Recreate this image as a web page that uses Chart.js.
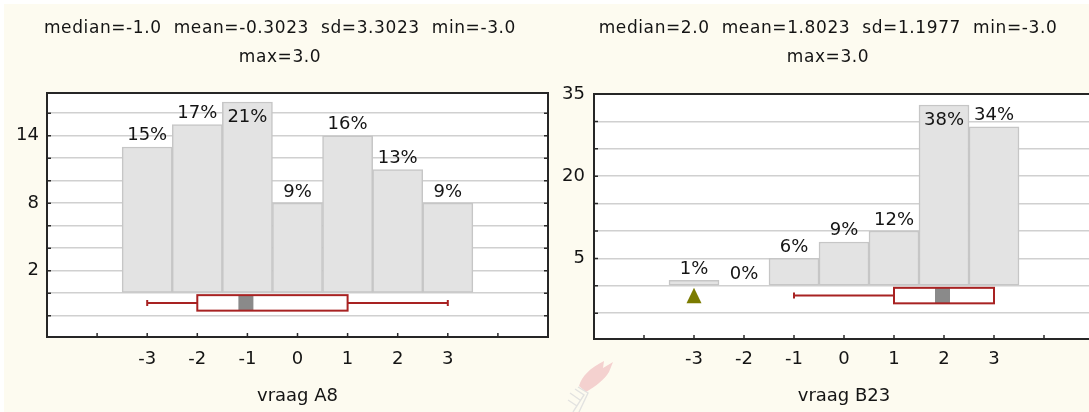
<!DOCTYPE html>
<html>
<head>
<meta charset="utf-8">
<script src="https://cdn.jsdelivr.net/npm/chart.js@4.4.1/dist/chart.umd.min.js"></script>
<style>
  html, body { margin: 0; padding: 0; width: 1089px; height: 412px; overflow: hidden; background: #ffffff; }
  #sheet { position: absolute; left: 4px; top: 4px; right: 0; bottom: 0; background: #fdfbf0; }
  .panel { position: absolute; top: 0; height: 412px; overflow: hidden; }
  .stats { position: absolute; top: 13px; transform: translateX(-50%);
           font-family: "DejaVu Sans", sans-serif; font-size: 17px; letter-spacing: 0.6px;
           line-height: 29px; color: #141414; text-align: center; white-space: pre; }
  #emblem { position: absolute; left: 562px; top: 356px; opacity: 0.85; }
</style>
</head>
<body>
<div id="sheet"></div>

<!-- faint torch emblem in the lower middle of the sheet -->
<svg id="emblem" width="60" height="56" viewBox="0 0 60 56">
  <path d="M17 30 C20 20 28 12 42 5 L41 12 L51 6 L47 16 C42 24 34 30 24 36 Z" fill="#f3caca"/>
  <path d="M16 31 L26 37 L17 56 M13 33 L22 39 L11 56 M8 37 L18 44 M6 44 L15 50" fill="none" stroke="#dedede" stroke-width="1.4"/>
</svg>

<div class="panel" style="left:0;width:560px;"><canvas id="chartA8" width="560" height="412"></canvas></div>
<div class="panel" style="left:560px;width:529px;"><canvas id="chartB23" width="560" height="412"></canvas></div>

<div class="stats" id="statsA8" style="left:280px;"></div>
<div class="stats" id="statsB23" style="left:828px;"></div>

<script>
// Answer categories shared by both questions
const scoreCategories = [-3, -2, -1, 0, 1, 2, 3];
const xTickLabels = ['-3', '-2', '-1', '0', '1', '2', '3'];

// Question A8: counts per answer and printed percentages
const countsA8 = [13, 15, 17, 8, 14, 11, 8];
const pctLabelsA8 = ['15%', '17%', '21%', '9%', '16%', '13%', '9%'];
const yTickLabelsA8 = [14, 8, 2];
// whisker low, Q1, median, Q3, whisker high
const boxA8 = [-3, -2, -1, 1, 3];
const outliersA8 = [];
const statsA8 = ['median=-1.0  mean=-0.3023  sd=3.3023  min=-3.0', 'max=3.0'];
const axisTitleA8 = 'vraag A8';

// Question B23
const countsB23 = [1, 0, 5, 8, 10, 33, 29];
const pctLabelsB23 = ['1%', '0%', '6%', '9%', '12%', '38%', '34%'];
const yTickLabelsB23 = [35, 20, 5];
const boxB23 = [-1, 1, 2, 3, 3];
const outliersB23 = [-3];
const statsB23 = ['median=2.0  mean=1.8023  sd=1.1977  min=-3.0', 'max=3.0'];
const axisTitleB23 = 'vraag B23';

document.getElementById('statsA8').textContent = statsA8.join('\n');
document.getElementById('statsB23').textContent = statsB23.join('\n');

const FONT = '"DejaVu Sans", sans-serif';
const BOX_RED = '#a82222';

// White plot background, inner tick marks and a dark frame around the plot
const frameAndTicks = {
  id: 'frameAndTicks',
  beforeDraw(chart) {
    const { ctx, chartArea: a } = chart;
    ctx.save();
    ctx.fillStyle = '#ffffff';
    ctx.fillRect(a.left, a.top, a.right - a.left, a.bottom - a.top);
    ctx.restore();
  },
  afterDraw(chart) {
    const { ctx, chartArea: a, scales: { x, y } } = chart;
    ctx.save();
    ctx.strokeStyle = '#2a2a2a';
    ctx.lineWidth = 1.5;
    ctx.beginPath();
    x.ticks.forEach(t => {
      if (t.value > x.min && t.value < x.max) {
        const px = x.getPixelForValue(t.value);
        ctx.moveTo(px, a.bottom); ctx.lineTo(px, a.bottom - 4);
      }
    });
    y.ticks.forEach(t => {
      if (t.value > y.min && t.value < y.max) {
        const py = y.getPixelForValue(t.value);
        ctx.moveTo(a.left, py); ctx.lineTo(a.left + 4, py);
        ctx.moveTo(a.right, py); ctx.lineTo(a.right - 4, py);
      }
    });
    ctx.stroke();
    ctx.lineWidth = 2;
    ctx.strokeStyle = '#262626';
    ctx.strokeRect(a.left, a.top, a.right - a.left, a.bottom - a.top);
    ctx.restore();
  }
};

// Percentage labels above each bar (inside the bar when there is no room above)
const barPercentLabels = {
  id: 'barPercentLabels',
  afterDatasetsDraw(chart, args, opts) {
    const { ctx, chartArea: a } = chart;
    const meta = chart.getDatasetMeta(0);
    ctx.save();
    ctx.font = '18px ' + FONT;
    ctx.fillStyle = '#141414';
    ctx.textAlign = 'center';
    ctx.textBaseline = 'alphabetic';
    meta.data.forEach((bar, i) => {
      const text = opts.labels[i];
      let baseY = bar.y - 6.5;
      if (baseY - 13.5 < a.top + 2) baseY = bar.y + 20.5;
      ctx.fillText(text, bar.x, baseY);
    });
    ctx.restore();
  }
};

// Box-and-whisker summary drawn just under the zero line
const boxSummary = {
  id: 'boxSummary',
  afterDatasetsDraw(chart, args, opts) {
    const { ctx, scales: { x, y } } = chart;
    const [lo, q1, med, q3, hi] = opts.box;
    const zero = y.getPixelForValue(0);
    const top = zero + 2, bottom = zero + 17.5, mid = (top + bottom) / 2;
    const px = v => x.getPixelForValue(v);
    ctx.save();
    ctx.strokeStyle = BOX_RED;
    ctx.lineWidth = 2;
    ctx.beginPath();
    if (lo < q1) {
      ctx.moveTo(px(lo), mid); ctx.lineTo(px(q1), mid);
      ctx.moveTo(px(lo), mid - 3); ctx.lineTo(px(lo), mid + 3);
    }
    if (hi > q3) {
      ctx.moveTo(px(q3), mid); ctx.lineTo(px(hi), mid);
      ctx.moveTo(px(hi), mid - 3); ctx.lineTo(px(hi), mid + 3);
    }
    ctx.stroke();
    ctx.fillStyle = '#ffffff';
    ctx.fillRect(px(q1), top, px(q3) - px(q1), bottom - top);
    ctx.fillStyle = '#8a8a8a';
    ctx.fillRect(px(med) - 9, top, 15, bottom - top);
    ctx.strokeRect(px(q1), top, px(q3) - px(q1), bottom - top);
    ctx.fillStyle = '#7b7b00';
    opts.outliers.forEach(v => {
      const cx = px(v);
      ctx.beginPath();
      ctx.moveTo(cx, top);
      ctx.lineTo(cx + 7.5, bottom);
      ctx.lineTo(cx - 7.5, bottom);
      ctx.closePath();
      ctx.fill();
    });
    ctx.restore();
  }
};

function buildHistogram(canvasId, counts, pctLabels, yMin, yMax, yStep, yLabels,
                        box, outliers, axisTitle, area) {
  const points = scoreCategories.map((c, i) => ({ x: c, y: counts[i] }));
  return new Chart(document.getElementById(canvasId), {
    type: 'bar',
    data: {
      datasets: [{
        data: points,
        backgroundColor: '#e3e3e3',
        borderColor: '#c6c6c6',
        borderWidth: 1.5,
        borderSkipped: false,
        barPercentage: 1,
        categoryPercentage: 1
      }]
    },
    options: {
      responsive: false,
      animation: false,
      devicePixelRatio: 1,
      layout: { padding: { top: area.top, left: 0, right: area.right, bottom: 0 } },
      plugins: {
        legend: { display: false },
        tooltip: { enabled: false },
        barPercentLabels: { labels: pctLabels },
        boxSummary: { box: box, outliers: outliers }
      },
      scales: {
        x: {
          type: 'linear',
          min: -5, max: 5,
          offset: false,
          grid: { display: false, drawTicks: false, offset: false },
          border: { display: false },
          afterFit(scale) { scale.height = area.xHeight; },
          ticks: {
            stepSize: 1,
            autoSkip: false,
            maxTicksLimit: 30,
            maxRotation: 0,
            padding: area.xPad,
            color: '#141414',
            font: { family: FONT, size: 18 },
            callback(v) {
              const i = scoreCategories.indexOf(v);
              return i >= 0 ? xTickLabels[i] : '';
            }
          },
          title: {
            display: true,
            text: axisTitle,
            color: '#141414',
            font: { family: FONT, size: 18 },
            padding: { top: 0, bottom: 5 }
          }
        },
        y: {
          min: yMin, max: yMax,
          grid: { color: '#d0d0d0', lineWidth: 1.5, drawTicks: false },
          border: { display: false },
          afterFit(scale) { scale.width = area.yWidth; },
          ticks: {
            stepSize: yStep,
            autoSkip: false,
            maxTicksLimit: 30,
            padding: area.yPad,
            color: '#141414',
            font: { family: FONT, size: 18 },
            callback(v) { return yLabels.includes(v) ? String(v) : ''; }
          }
        }
      }
    },
    plugins: [frameAndTicks, barPercentLabels, boxSummary]
  });
}

buildHistogram('chartA8', countsA8, pctLabelsA8, -3.9, 17.8, 2, yTickLabelsA8,
  boxA8, outliersA8, axisTitleA8,
  { top: 93, right: 12, yWidth: 47, xHeight: 75, xPad: 12, yPad: 8 });

buildHistogram('chartB23', countsB23, pctLabelsB23, -9.7, 35, 5, yTickLabelsB23,
  boxB23, outliersB23, axisTitleB23,
  { top: 94, right: 26, yWidth: 34, xHeight: 73, xPad: 10, yPad: 9 });
</script>
</body>
</html>
